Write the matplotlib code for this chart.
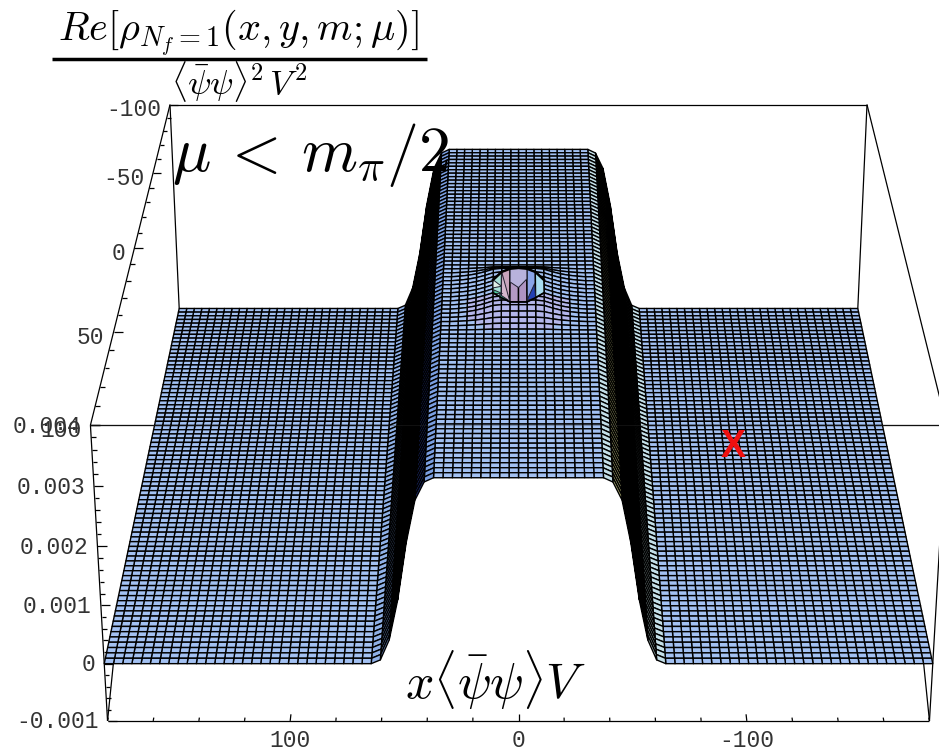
import matplotlib
matplotlib.use("Agg")
import matplotlib.pyplot as plt
from matplotlib.collections import PolyCollection, LineCollection
import numpy as np

plt.rcParams['mathtext.fontset'] = 'cm'

# surface values, z in units of 0.001
# height of the ridge for column |k|, x = 4*k
ridge_height = [3.14, 3.14, 3.14, 3.14, 3.14, 3.14, 3.14, 3.14, 3.14, 3.14,
                3.07, 2.77, 2.06, 1.10, 0.41, 0.065, 0, 0, 0, 0,
                0, 0, 0, 0, 0, 0, 0, 0, 0, 0,
                0, 0, 0, 0, 0, 0, 0, 0, 0, 0, 0]
# central bump: strength across columns |k| and along rows (y)
bump_rise = 0.16
bump_x = [1.0, 1.0, 1.0, 0.9, 0.6, 0.35, 0.18, 0.07, 0.0]
bump_y_pos = [-20, -17.5, -15, -12.5, -10, -7.5, -5, -2.5, 0, 2.5, 5, 7.5, 10, 12.5, 15, 17.5, 20, 22.5]
bump_y = [0.0, 0.25, 0.6, 0.95, 1.0, 1.0, 1.0, 1.0, 1.0, 1.0, 1.0, 1.0, 0.95, 0.7, 0.48, 0.28, 0.1, 0.0]
# clipped hole of the bump: y of its rim at each column edge
hole_k = [3, 2, 1, 0, -1, -2, -3]
hole_top = [-5, -10, -12, -12.5, -12, -10, -5]
hole_bottom = [3, 6, 8.6, 8.6, 8.6, 6, 3]
hole_colours = ["#a8e0d8", "#c8a4bc", "#b49ac4", "#ad94c2", "#8aa4e8", "#a8dcf0"]
# extra faces inside the hole: k, y, colour
inner_k = [[1, 0, -1, -1, 0, 1], [2, 1, 2], [-1, -1.9, -2], [2.9, 1.9, 2.9], [2.2, 1.2, 2.2], [3, 2, 3]]
inner_y = [[-12, -12.5, -12, -5.6, -0.2, -3.7], [-10, 8.6, 6], [7.5, -2.6, 6.4], [1.3, 3.5, 3.5], [6.5, 7.5, 4], [-5, -1, 0]]
inner_colours = ["#b8b2dc", "#d4b6cc", "#2240b4", "#50d0a0", "#40c8a0", "#e0f0e8"]
# colours of the wall columns, by column start |k|
wall_left = {15: "#8fb0e6", 14: "#7a9ee0", 13: "#20307a", 12: "#000000", 11: "#000000", 10: "#20307a", 9: "#7a9ee0"}
wall_right = {15: "#c4dfe8", 14: "#c8e4e4", 13: "#b8b878", 12: "#000000", 11: "#000000", 10: "#b8b878", 9: "#c4dfe8"}
flat_colour = "#a3c1f2"

x_major = [100, 0, -100]
x_labels = ["100", "0", "-100"]
y_major = [-100, -50, 0, 50, 100]
y_labels = ["-100", "-50", "0", "50", "100"]
z_major = [-1, 0, 1, 2, 3, 4]
z_labels = ["-0.001", "0", "0.001", "0.002", "0.003", "0.004"]


def project(x, y, z):
    x, y, z = np.asarray(x, float), np.asarray(y, float), np.asarray(z, float)
    w = 0.4825 - 0.00048 * y - 0.0035 * z
    return 518.5 - x / w, (226 + 0.6236 * y - 27.4 * z) / w


def seg(p, q):
    return [tuple(project(*p)), tuple(project(*q))]


ks = np.arange(-45, 46)
ys = np.arange(-100, 100.1, 2.5)
xs = ks * 4.0
cap = ridge_height[0] + bump_rise
Z = np.zeros((len(ys), len(ks)))
for j, yv in enumerate(ys):
    for i, k in enumerate(ks):
        Z[j, i] = ridge_height[min(abs(k), 40)]
        if abs(k) < len(bump_x) and yv in bump_y_pos:
            Z[j, i] += bump_rise * bump_x[abs(k)] * bump_y[bump_y_pos.index(yv)]

fig = plt.figure(figsize=(9.39, 7.52), dpi=100)
ax = fig.add_axes([0, 0, 1, 1])
ax.set_xlim(0, 939)
ax.set_ylim(752, 0)
ax.axis("off")

# box behind the surface
back = [
    seg((180, -100, 4), (-180, -100, 4)),
    seg((180, -100, 4), (180, 100, 4)),
    seg((-180, -100, 4), (-180, 100, 4)),
    seg((180, 100, 4), (-180, 100, 4)),
    seg((180, -100, 4), (180, -100, 0)),
    seg((-180, -100, 4), (-180, -100, 0)),
    seg((180, 100, -1), (180, 60, 0)),
    seg((-180, 100, -1), (-180, 60, 0)),
]
ax.add_collection(LineCollection(back, colors="black", linewidths=0.9, zorder=1))

polys, faces = [], []
for j in range(len(ys) - 1):
    for i in range(len(ks) - 1):
        x0, x1 = xs[i], xs[i + 1]
        if x0 < -180 or x1 > 180:
            continue
        zz = Z[j:j + 2, i:i + 2]
        u, v = project([x0, x1, x1, x0], [ys[j], ys[j], ys[j + 1], ys[j + 1]],
                       [zz[0, 0], zz[0, 1], zz[1, 1], zz[1, 0]])
        polys.append(np.column_stack([u, v]))
        k = ks[i] if ks[i] >= 0 else -ks[i + 1]
        if ks[i] < 0 and k in wall_right:
            faces.append(wall_right[k])
        elif ks[i] >= 0 and k in wall_left:
            faces.append(wall_left[k])
        elif zz.max() > ridge_height[0] + 0.03 and ys[j] > 0:
            faces.append("#b4b6ea")
        else:
            faces.append(flat_colour)
mesh = PolyCollection(polys, facecolors=faces, edgecolors="black", linewidths=1.0, zorder=2)
mesh.set_snap(False)
ax.add_collection(mesh)

# clipped top of the bump, one face per column
hole_polys = []
for n in range(len(hole_k) - 1):
    xa, xb = hole_k[n] * 4.0, hole_k[n + 1] * 4.0
    u, v = project([xa, xb, xb, xa], [hole_top[n], hole_top[n + 1], hole_bottom[n + 1], hole_bottom[n]],
                   [cap] * 4)
    hole_polys.append(np.column_stack([u, v]))
ax.add_collection(PolyCollection(hole_polys, facecolors=hole_colours, edgecolors="black",
                                 linewidths=1.0, zorder=3))
inner_polys = []
for kk, yy in zip(inner_k, inner_y):
    u, v = project(np.array(kk) * 4.0, yy, [cap] * len(kk))
    inner_polys.append(np.column_stack([u, v]))
ax.add_collection(PolyCollection(inner_polys, facecolors=inner_colours, edgecolors="#202030",
                                 linewidths=0.7, zorder=3))
u, v = project(np.array(hole_k) * 4.0, hole_top, [cap] * len(hole_k))
ax.plot(u, v, color="black", lw=1.8, zorder=3)
u, v = project(np.array(hole_k) * 4.0, hole_bottom, [cap] * len(hole_k))
ax.plot(u, v, color="black", lw=1.2, zorder=3)

# front edges and ticks
front = [
    seg((180, 100, 4), (180, 100, -1)),
    seg((-180, 100, 4), (-180, 100, -1)),
    seg((180, 100, -1), (-180, 100, -1)),
]
for zt in np.arange(-1, 4.01, 0.2):
    ln = 4 if abs(zt - round(zt)) < 0.01 else 2
    front.append(seg((180, 100, zt), (180 - ln, 100, zt)))
for yt in np.arange(-100, 101, 10):
    ln = 4 if yt % 50 == 0 else 2
    front.append(seg((180, yt, 4), (180 - ln, yt, 4)))
for xt in np.arange(-180, 181, 20):
    ln = 3 if xt % 100 == 0 else 1.5
    front.append(seg((xt, 100, -1), (xt, 100 - ln, -1)))
ax.add_collection(LineCollection(front, colors="black", linewidths=0.9, zorder=4))
ax.add_collection(LineCollection([seg((180, 100, 4), (-180, 100, 4))], colors="#303030",
                                 linewidths=0.8, alpha=0.35, zorder=4))

# tick labels
font = dict(family="Liberation Mono", fontsize=16.5, color="#333333", zorder=5)
for xv, s in zip(x_major, x_labels):
    u, v = project(xv, 100, -1)
    ax.text(u, v + 20, s, ha="center", va="center", **font)
for yv, s in zip(y_major, y_labels):
    u, v = project(180, yv, 4)
    ax.text(u - 9, v + 5, s, ha="right", va="center", **font)
for zv, s in zip(z_major, z_labels):
    u, v = project(180, 100, zv)
    ax.text(u - 9, v + 1, s, ha="right", va="center", **font)

# math labels
ax.text(238, 33, r"$Re[\rho_{N_f=1}(x,y,m;\mu)]$", fontsize=29, ha="center", va="center", zorder=6)
ax.plot([52, 427], [59, 59], color="black", lw=2.5, zorder=6, solid_capstyle="butt")
ax.text(239, 81, r"$\langle\bar{\psi}\psi\rangle^2\,V^2$", fontsize=25, ha="center", va="center", zorder=6)
ax.text(172, 155, r"$\mu\,<\,m_\pi/2$", fontsize=46, ha="left", va="center", zorder=6)
ax.text(496, 680, r"$x\langle\bar{\psi}\psi\rangle V$", fontsize=36, ha="center", va="center", zorder=6)
ax.text(733, 447, "X", family="Liberation Sans", weight="bold", color="#f01010", fontsize=27,
        ha="center", va="center", zorder=6)

fig.savefig("out.png", dpi=100)
